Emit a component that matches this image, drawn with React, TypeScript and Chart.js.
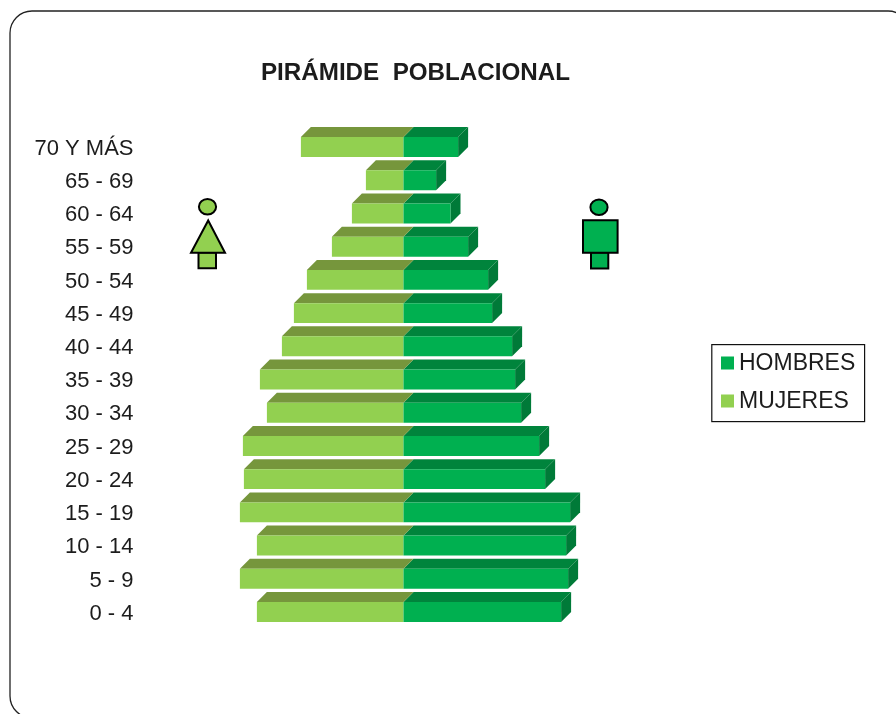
import React, { useEffect, useRef } from "react";
import { Chart, registerables } from "chart.js";

Chart.register(...registerables);

const titleText = "PIRÁMIDE  POBLACIONAL";
const categories = ["70 Y MÁS", "65 - 69", "60 - 64", "55 - 59", "50 - 54", "45 - 49", "40 - 44", "35 - 39", "30 - 34", "25 - 29", "20 - 24", "15 - 19", "10 - 14", "5 - 9", "0 - 4"];
const hombres = [2.73, 1.63, 2.35, 3.23, 4.23, 4.43, 5.43, 5.58, 5.88, 6.78, 7.08, 8.33, 8.13, 8.23, 7.88];
const mujeres = [-5.13, -1.88, -2.58, -3.58, -4.83, -5.48, -6.08, -7.18, -6.83, -8.03, -7.98, -8.18, -7.33, -8.18, -7.33];

const FONT = '"Liberation Sans", Arial, sans-serif';
const TEXT = "#1c1c1c";
const GREEN_F = "#00B050";
const GREEN_T = "#00843C";
const GREEN_S = "#007A38";
const LIME_F = "#92D050";
const LIME_T = "#76963C";
const DEPTH = 10;

const threeD = {
  id: "threeD",
  beforeDatasetsDraw(chart: any) {
    const { ctx } = chart;
    const faces = [
      { meta: chart.getDatasetMeta(0), top: GREEN_T, side: GREEN_S },
      { meta: chart.getDatasetMeta(1), top: LIME_T, side: null },
    ];
    for (const f of faces) {
      f.meta.data.forEach((bar: any) => {
        const p = bar.getProps(["x", "y", "base", "height"], true);
        const t = p.y - p.height / 2;
        const b = p.y + p.height / 2;
        const a = Math.min(p.x, p.base);
        const z = Math.max(p.x, p.base);
        ctx.fillStyle = f.top;
        ctx.beginPath();
        ctx.moveTo(a, t);
        ctx.lineTo(a + DEPTH, t - DEPTH);
        ctx.lineTo(z + DEPTH, t - DEPTH);
        ctx.lineTo(z, t);
        ctx.closePath();
        ctx.fill();
        if (f.side) {
          ctx.fillStyle = f.side;
          ctx.beginPath();
          ctx.moveTo(z, t);
          ctx.lineTo(z + DEPTH, t - DEPTH);
          ctx.lineTo(z + DEPTH, b - DEPTH);
          ctx.lineTo(z, b);
          ctx.closePath();
          ctx.fill();
        }
      });
    }
  },
};

const decor = {
  id: "decor",
  afterLayout(chart: any) {
    chart.titleBlock.left = 0;
    chart.titleBlock.right = 831;
  },
  beforeDraw(chart: any) {
    const { ctx } = chart;
    ctx.save();
    ctx.strokeStyle = "#222";
    ctx.lineWidth = 1.3;
    ctx.beginPath();
    ctx.roundRect(10, 11, 900, 707, 22);
    ctx.stroke();
    ctx.restore();
  },
  afterDraw(chart: any) {
    const { ctx } = chart;
    ctx.save();
    // figures
    ctx.lineWidth = 2;
    ctx.strokeStyle = "#000";
    const shape = (fill: string, path: () => void) => {
      ctx.fillStyle = fill;
      ctx.beginPath();
      path();
      ctx.fill();
      ctx.stroke();
    };
    shape(LIME_F, () => ctx.ellipse(207.5, 206.8, 8.6, 7.8, 0, 0, Math.PI * 2));
    shape(LIME_F, () => ctx.rect(198.5, 252.5, 17.5, 15.8));
    shape(LIME_F, () => {
      ctx.moveTo(208.2, 220.5);
      ctx.lineTo(225, 252.7);
      ctx.lineTo(191, 252.7);
      ctx.closePath();
    });
    shape(GREEN_F, () => ctx.ellipse(599, 207.3, 8.6, 7.8, 0, 0, Math.PI * 2));
    shape(GREEN_F, () => ctx.rect(591, 252.5, 17.3, 16));
    shape(GREEN_F, () => ctx.rect(583, 220.2, 34.6, 32.5));

    // legend
    ctx.lineWidth = 1.2;
    ctx.strokeStyle = "#111";
    ctx.strokeRect(711.8, 344.6, 152.8, 77);
    const items = [0, 1].map((i) => chart.data.datasets[i]);
    items.forEach((d: any, i: number) => {
      const cy = 363 + i * 38;
      ctx.fillStyle = d.backgroundColor;
      ctx.fillRect(721, cy - 6.5, 13, 13);
      ctx.fillStyle = TEXT;
      ctx.font = `23px ${FONT}`;
      ctx.textAlign = "left";
      ctx.textBaseline = "middle";
      ctx.fillText(d.label, 739, cy + 0.5);
    });
    ctx.restore();
  },
};

export default function App() {
  const ref = useRef<HTMLCanvasElement>(null);
  useEffect(() => {
    document.body.style.margin = "0";
    document.body.style.background = "#fff";
    const chart = new Chart(ref.current as HTMLCanvasElement, {
      type: "bar",
      data: {
        labels: categories,
        datasets: [
          { label: "HOMBRES", data: hombres, backgroundColor: GREEN_F, borderWidth: 0 },
          { label: "MUJERES", data: mujeres, backgroundColor: LIME_F, borderWidth: 0 },
        ],
      },
      options: {
        indexAxis: "y",
        responsive: false,
        animation: false,
        layout: { padding: { top: 58.4, bottom: 85.4, left: 0, right: 292.5 } },
        datasets: { bar: { barPercentage: 0.6, categoryPercentage: 1 } },
        scales: {
          x: { stacked: true, display: false, min: -13, max: 10 },
          y: {
            stacked: true,
            grid: { display: false, drawTicks: false },
            border: { display: false },
            ticks: { color: TEXT, padding: 10, labelOffset: 1.7, font: { family: FONT, size: 22 }, autoSkip: false },
            afterFit(scale: any) {
              scale.width = 143.5;
            },
          },
        },
        plugins: {
          legend: { display: false },
          tooltip: { enabled: false },
          title: {
            display: true,
            text: titleText,
            color: TEXT,
            font: { family: FONT, size: 24.2, weight: "bold" },
            padding: { top: 0, bottom: 43 },
          },
        },
      },
      plugins: [threeD, decor],
    } as any);
    return () => chart.destroy();
  }, []);
  return (
    <div style={{ width: 896, height: 714, overflow: "hidden" }}>
      <canvas ref={ref} width={896} height={714} style={{ display: "block" }} />
    </div>
  );
}
